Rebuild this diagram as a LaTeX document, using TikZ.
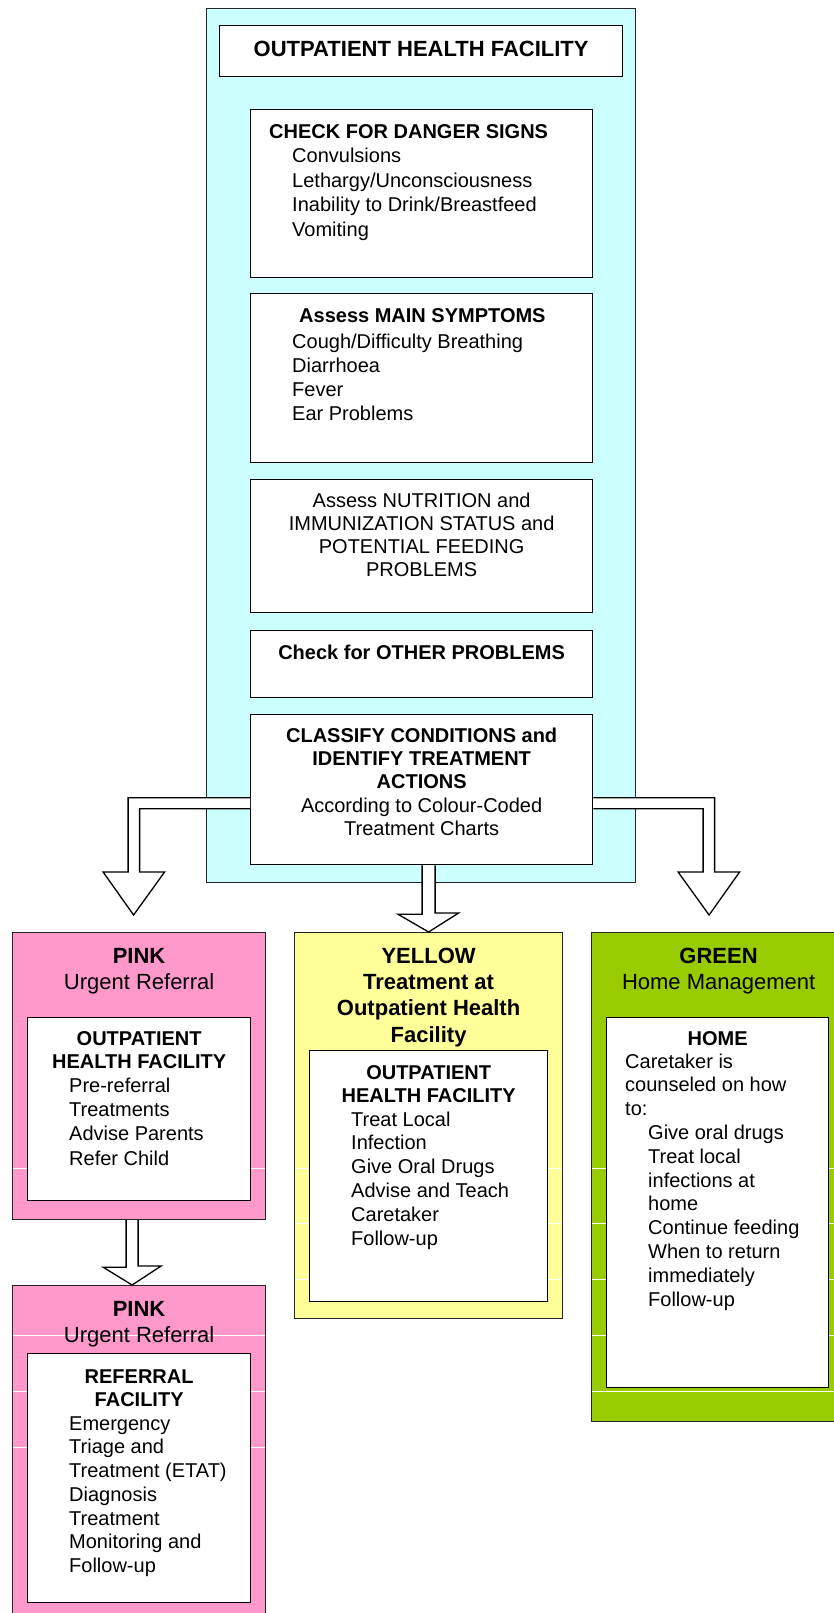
\documentclass[tikz,border=0pt]{standalone}
\usepackage{fontspec}
\setmainfont{Liberation Sans}
\usepackage{xcolor}
\usepackage{tikz}
\usetikzlibrary{positioning}
\definecolor{clinic}{HTML}{CCFFFF}
\definecolor{urgent}{HTML}{FF99CC}
\definecolor{treat}{HTML}{FFFF99}
\definecolor{home}{HTML}{99CC00}
\newcommand{\indx}{\hspace*{23pt}}

\begin{document}
\begin{tikzpicture}[x=1pt, y=-1pt,
  zone/.style={draw=black!85, line width=1.2pt, fill=#1, anchor=north west, inner sep=0pt},
  panel/.style={draw, line width=1.3pt, fill=white, anchor=north west, inner sep=0pt},
  bodytext/.style={inner sep=0pt, align=left, font=\fontsize{20}{#1}\selectfont},
  bodytext/.default=24,
  boldtext/.style={inner sep=0pt, align=center, font=\fontsize{20}{#1}\selectfont\bfseries},
  boldtext/.default=23,
  headtext/.style={inner sep=0pt, align=center, font=\fontsize{22}{#1}\selectfont},
  headtext/.default=26,
  blockarrow/.style={draw, fill=white, line width=1.3pt, line join=miter},
  seam/.style={white, line width=0.8pt, shorten <=1pt, shorten >=1pt}]
  \useasboundingbox (0,0) rectangle (833,1613);

  \node[zone=clinic, line width=1pt, minimum width=429pt, minimum height=874pt] (clinic) at (206,8) {};
  \node[panel, minimum width=403pt, minimum height=51pt, font=\fontsize{22}{26}\selectfont\bfseries, text depth=4.75pt] (title) at (219,25) {OUTPATIENT HEALTH FACILITY};
  \node[panel, minimum width=342pt, minimum height=168pt] (danger) at (250,109) {};
  \node[panel, minimum width=342pt, minimum height=169pt] (symptoms) at (250,293) {};
  \node[panel, minimum width=342pt, minimum height=133pt] (nutrition) at (250,479) {};
  \node[panel, minimum width=342pt, minimum height=67pt] (other) at (250,630) {};
  \node[panel, minimum width=342pt, minimum height=150pt] (classify) at (250,714) {};

  \node[zone=urgent, minimum width=253pt, minimum height=287pt] (pinkA) at (12,932) {};
  \node[zone=urgent, minimum width=253pt, minimum height=360pt] (pinkB) at (12,1285) {};
  \node[zone=treat, minimum width=268pt, minimum height=386pt] (yellow) at (294,932) {};
  \node[zone=home, minimum width=254pt, minimum height=489pt] (green) at (591,932) {};

  \foreach \zz/\yy in {pinkA/1168, yellow/1168, yellow/1223, yellow/1279, green/1168, green/1223,
      green/1279, green/1335, green/1391, pinkB/1335, pinkB/1391, pinkB/1447}
    \draw[seam] (\zz.west |- 0,\yy) -- (\zz.east |- 0,\yy);

  \node[panel, minimum width=223pt, minimum height=183pt] (pinkAin) at (27,1017) {};
  \node[panel, minimum width=223pt, minimum height=249pt] (pinkBin) at (27,1353) {};
  \node[panel, minimum width=238pt, minimum height=251pt] (yellowin) at (309,1050) {};
  \node[panel, minimum width=222pt, minimum height=370pt] (greenin) at (606,1017) {};

  \node[bodytext=24.5, below right=11.85pt and 19pt of danger.north west] (dangertxt) {\strut\textbf{CHECK FOR DANGER SIGNS}\\ \indx Convulsions\\ \indx Lethargy/Unconsciousness\\ \indx Inability to Drink/Breastfeed\\ \indx Vomiting};
  \node[bodytext, below right=12.2pt and 42pt of symptoms.north west] (symptomtxt) {\strut\hspace*{7pt}\textbf{Assess MAIN SYMPTOMS}\\[2pt] Cough/Difficulty Breathing\\ Diarrhoea\\ Fever\\ Ear Problems};
  \node[bodytext=23, align=center, below=11.9pt of nutrition.north] (nutritiontxt) {\strut Assess NUTRITION and\\ IMMUNIZATION STATUS and\\ POTENTIAL FEEDING\\ PROBLEMS};
  \node[boldtext, below=12.9pt of other.north] (othertxt) {\strut Check for OTHER PROBLEMS};
  \node[bodytext=23.3, align=center, below=11.7pt of classify.north] (classifytxt) {\strut\textbf{CLASSIFY CONDITIONS and}\\ \textbf{IDENTIFY TREATMENT}\\ \textbf{ACTIONS}\\ According to Colour-Coded\\ Treatment Charts};

  \node[headtext, below=12.8pt of pinkA.north] (pinkAhead) {\strut\textbf{PINK}\\ Urgent Referral};
  \node[boldtext, below=11.9pt of pinkAin.north] (pinkAsite) {\strut OUTPATIENT\\ HEALTH FACILITY};
  \node[bodytext=24.3, below right=58pt and 42pt of pinkAin.north west] (pinkAlist) {\strut Pre-referral\\ Treatments\\ Advise Parents\\ Refer Child};

  \node[headtext, below=12.8pt of pinkB.north] (pinkBhead) {\strut\textbf{PINK}\\ Urgent Referral};
  \node[boldtext, below=13.9pt of pinkBin.north] (pinkBsite) {\strut REFERRAL\\ FACILITY};
  \node[bodytext=23.7, below right=60.4pt and 42pt of pinkBin.north west] (pinkBlist) {\strut Emergency\\ Triage and\\ Treatment (ETAT)\\ Diagnosis\\ Treatment\\ Monitoring and\\ Follow-up};

  \node[headtext=26.3, below=12.6pt of yellow.north] (yellowhead) {\strut\textbf{YELLOW}\\ \textbf{Treatment at}\\ \textbf{Outpatient Health}\\ \textbf{Facility}};
  \node[boldtext, below=12.9pt of yellowin.north] (yellowsite) {\strut OUTPATIENT\\ HEALTH FACILITY};
  \node[bodytext=23.8, below right=59.3pt and 42pt of yellowin.north west] (yellowlist) {\strut Treat Local\\ Infection\\ Give Oral Drugs\\ Advise and Teach\\ Caretaker\\ Follow-up};

  \node[headtext, below=12.8pt of green.north] (greenhead) {\strut\textbf{GREEN}\\ Home Management};
  \node[boldtext, below=11.9pt of greenin.north] (greensite) {\strut HOME};
  \node[bodytext=23.8, below right=34.3pt and 19pt of greenin.north west] (greenlist) {\strut Caretaker is\\ counseled on how\\ to:\\ \indx Give oral drugs\\ \indx Treat local\\ \indx infections at\\ \indx home\\ \indx Continue feeding\\ \indx When to return\\ \indx immediately\\ \indx Follow-up};

  \coordinate (tipL) at ([xshift=-5.5pt,yshift=17pt]pinkA.north);
  \coordinate (tipR) at ([xshift=-9.5pt,yshift=17pt]green.north);
  \coordinate (cin) at (yellow.north |- classify.south);
  \coordinate (tipP) at ([xshift=-7pt]pinkB.north);
  \coordinate (pout) at (tipP |- pinkA.south);

  \draw[blockarrow] ([yshift=-8pt]classify.west) -| ([xshift=-5.5pt,yshift=43pt]tipL) -- ++(-25,0) -- (tipL) -- ++(31,-43) -- ++(-25,0) |- ([yshift=-19pt]classify.west);
  \draw[blockarrow] ([yshift=-8pt]classify.east) -| ([xshift=5.5pt,yshift=43pt]tipR) -- ++(25,0) -- (tipR) -- ++(-31,-43) -- ++(25,0) |- ([yshift=-19pt]classify.east);
  \draw[blockarrow] ([xshift=-6.5pt]cin) -- ++(0,49) -- ++(-24,0) -- (yellow.north) -- ++(30,-19) -- ++(-23.5,0) -- ([xshift=6.5pt]cin);
  \draw[blockarrow] ([xshift=-6pt]pout) -- ++(0,47) -- ++(-23,0) -- (tipP) -- ++(29,-19) -- ++(-23,0) -- ([xshift=6pt]pout);
\end{tikzpicture}
\end{document}
